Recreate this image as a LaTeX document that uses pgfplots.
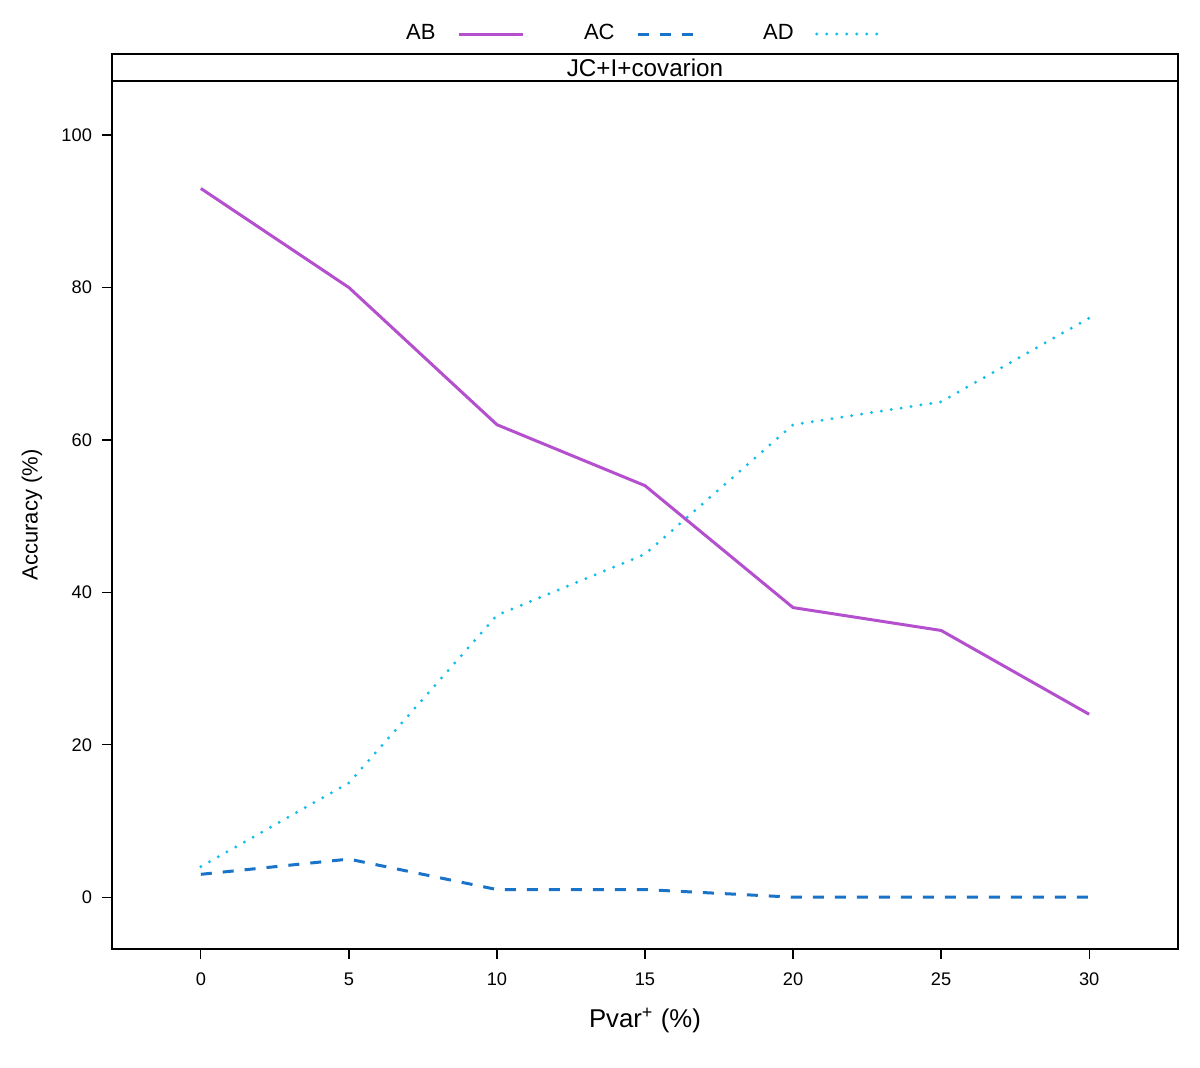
\documentclass[border=0pt]{standalone}
\usepackage{pgfplots}
\pgfplotsset{compat=1.18}
\usepackage{fontspec}
\setmainfont{Liberation Sans}
\definecolor{cAB}{RGB}{180,80,205}
\definecolor{cAC}{RGB}{25,115,200}
\definecolor{cAD}{RGB}{20,190,235}
\begin{document}
\begin{tikzpicture}
\begin{axis}[
  scale only axis,
  width=426.4pt, height=347.2pt,
  xmin=-3, xmax=33, ymin=-6.8, ymax=107.1,
  xtick={0,5,...,30}, ytick={0,20,...,100},
  xtick pos=bottom, ytick pos=left,
  tick align=outside, major tick length=4pt,
  tick style={black, line width=0.5pt},
  axis line style={line width=0.5pt},
  /pgf/number format/assume math mode=true,
  ticklabel style={font=\fontsize{7.3}{8.6}\selectfont},
  yticklabel style={xshift=-0.5pt},
  xticklabel style={yshift=-2pt},
  clip=false,
  xlabel={Pvar\textsuperscript{+} (\%)},
  ylabel={Accuracy (\%)},
  xlabel style={at={(axis description cs:0.5,-0.0818)}, anchor=center, font=\fontsize{10.3}{12}\selectfont},
  ylabel style={at={(axis description cs:-0.075,0.5)}, anchor=center, font=\fontsize{8.8}{10}\selectfont},
  legend plot pos=right,
  legend columns=3,
  legend style={at={(rel axis cs:0.497,1.0541)}, anchor=center, draw=none, fill=none,
    font=\fontsize{8.8}{10}\selectfont,
    /tikz/every odd column/.append style={column sep=6.6pt},
    /tikz/every even column/.append style={column sep=22pt}},
  legend image code/.code={\draw[#1] (0pt,0pt) -- (25.6pt,0pt);},
]
\addplot[color=cAB, line width=1.2pt, line join=round] coordinates {(0,93) (5,80) (10,62) (15,54) (20,38) (25,35) (30,24)};
\addlegendentry{AB}
\addplot[color=cAC, line width=1.2pt, dash pattern=on 4.4pt off 4.4pt] coordinates {(0,3) (5,5) (10,1) (15,1) (20,0) (25,0) (30,0)};
\addlegendentry{AC}
\addplot[color=cAD, line width=1.3pt, line cap=round, dash pattern=on 0pt off 4pt] coordinates {(0,4) (5,15) (10,37) (15,45) (20,62) (25,65) (30,76)};
\addlegendentry{AD}
\draw[line width=0.5pt] (rel axis cs:0,1) rectangle (rel axis cs:1,1.0311);
\node[font=\fontsize{9.7}{11}\selectfont] at (rel axis cs:0.5,1.01555) {JC+I+covarion};
\path (rel axis cs:-0.10507,-0.13594) rectangle (rel axis cs:1.02064,1.09332);
\end{axis}
\end{tikzpicture}
\end{document}
